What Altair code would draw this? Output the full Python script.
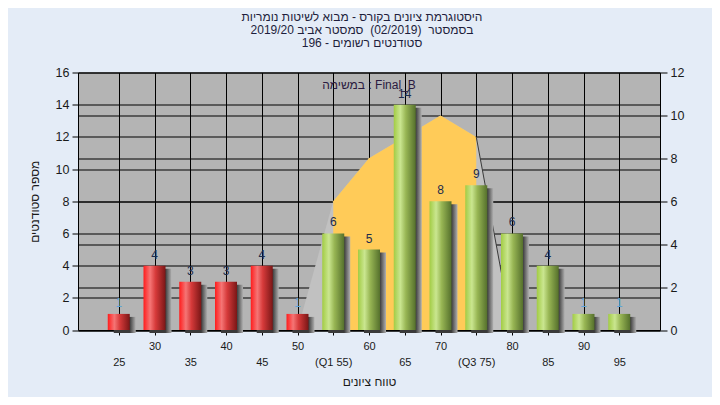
import altair as alt
import pandas as pd

# ---- data ----
scores = [25, 30, 35, 40, 45, 50, 55, 60, 65, 70, 75, 80, 85, 90, 95]
counts = [1, 4, 3, 3, 4, 1, 6, 5, 14, 8, 9, 6, 4, 1, 1]
q1, q3 = 55, 75
curve_x = [50, 55, 60, 65, 70, 75, 80]
curve_y = [0, 6, 8, 9, 10, 9, 0]
left_ticks = [0, 2, 4, 6, 8, 10, 12, 14, 16]
right_ticks = [0, 2, 4, 6, 8, 10, 12]
title_lines = [
    "היסטוגרמת ציונים בקורס - מבוא לשיטות נומריות",
    "בסמסטר\u00a0 (02/2019)\u00a0 סמסטר אביב 2019/20",
    "סטודנטים רשומים - 196",
]
x_title = "טווח ציונים"
y_title = "מספר סטודנטים"
note_text = "במשימה : Final_B"
note_x, note_y = 60, 15.2

FONT = "Liberation Sans, DejaVu Sans"

bars_df = pd.DataFrame({"score": scores, "count": counts})
bars_df["group"] = ["low" if s < q1 else "high" for s in scores]
curve_df = pd.DataFrame({"score": curve_x, "val": curve_y})
mid_df = curve_df[(curve_df.score >= q1) & (curve_df.score <= q3)]
tail_df = curve_df[curve_df.score >= q3]
note_df = pd.DataFrame({"score": [note_x], "count": [note_y], "t": [note_text]})

label_expr = (
    "(datum.value % 10 == 5) ? ['', (datum.value == 55 ? '(Q1 55)' : datum.value == 75 ? '(Q3 75)' : datum.label)]"
    " : [datum.label]"
)

X = alt.X(
    "score:Q",
    scale=alt.Scale(domain=[20, 100], nice=False, zero=False),
    axis=alt.Axis(
        values=scores, grid=True, tickSize=5, labelExpr=label_expr,
        labelFontSize=11, labelLineHeight=16, labelPadding=5, labelBaseline="top",
        title=x_title, titleFontSize=12, titleFontWeight="normal", titlePadding=9,
        labelFlush=False, labelOverlap=False,
    ),
)

# right-axis group (curve)
Yr = alt.Y(
    "val:Q",
    scale=alt.Scale(domain=[0, 12], nice=False),
    axis=alt.Axis(orient="right", values=right_ticks, grid=True, tickSize=7,
                  labelFontSize=12.5, labelPadding=3, title=None, labelOverlap=False),
)
curve_gray = alt.Chart(curve_df).mark_area(color="#c1c1c1", opacity=1).encode(x=X, y=Yr)
curve_yel = alt.Chart(mid_df).mark_area(color="#ffcb58", opacity=1).encode(x=X, y=Yr)
curve_edge = alt.Chart(tail_df).mark_line(color="#3a3a3a", strokeWidth=1).encode(x=X, y=Yr)
right_group = alt.layer(curve_gray, curve_yel, curve_edge)

# left-axis group (bars)
Yl = alt.Y(
    "count:Q",
    scale=alt.Scale(domain=[0, 16], nice=False),
    axis=alt.Axis(orient="left", values=left_ticks, grid=True, tickSize=6,
                  labelFontSize=12.5, labelPadding=3, title=y_title, labelOverlap=False,
                  labelSeparation=0, labelBound=False,
                  titleFontSize=12, titleFontWeight="normal", titlePadding=14),
)

shadow_grad = alt.Gradient(
    gradient="linear", x1=0, x2=1, y1=0, y2=0,
    stops=[alt.GradientStop(offset=0, color="#3a3a3a"),
           alt.GradientStop(offset=0.72, color="#3a3a3a"),
           alt.GradientStop(offset=1, color="#b0b0b0")],
)
red_grad = alt.Gradient(
    gradient="linear", x1=0, x2=1, y1=0, y2=0,
    stops=[alt.GradientStop(offset=0, color="#ff1c1c"),
           alt.GradientStop(offset=0.3, color="#f57575"),
           alt.GradientStop(offset=0.55, color="#d63a3a"),
           alt.GradientStop(offset=1, color="#7a1616")],
)
green_grad = alt.Gradient(
    gradient="linear", x1=0, x2=1, y1=0, y2=0,
    stops=[alt.GradientStop(offset=0, color="#a2cc44"),
           alt.GradientStop(offset=0.3, color="#cae690"),
           alt.GradientStop(offset=0.55, color="#98b654"),
           alt.GradientStop(offset=1, color="#55702c")],
)

base = alt.Chart(bars_df)
shadows = base.mark_bar(size=22, xOffset=6, yOffset=3, color=shadow_grad).encode(x=X, y=Yl)
red_bars = base.transform_filter("datum.group == 'low'").mark_bar(size=22, color=red_grad).encode(x=X, y=Yl)
green_bars = base.transform_filter("datum.group == 'high'").mark_bar(size=22, color=green_grad).encode(x=X, y=Yl)
labels = base.mark_text(font=FONT, fontSize=12, baseline="alphabetic", dy=-7).encode(
    x=X, y=Yl, text="count:Q",
    color=alt.condition("datum.count == 1", alt.value("#5fa4d8"), alt.value("#1c2c4c")))
note = alt.Chart(note_df).mark_text(
    font=FONT, fontSize=12, color="#2a1a40", baseline="middle").encode(
    x=X, y=Yl, text="t:N")
left_group = alt.layer(shadows, red_bars, green_bars, labels, note)

chart = (
    alt.layer(right_group, left_group)
    .resolve_scale(y="independent")
    .properties(
        width=582, height=257.5,
        autosize=alt.AutoSizeParams(type="none"),
        padding={"left": 70, "top": 64.5, "right": 52, "bottom": 67},
        background="#e4ecf7",
        title=alt.TitleParams(text=title_lines, fontSize=12, fontWeight="normal", font=FONT,
                              color="#1e1e3c", lineHeight=13, anchor="middle", offset=17, dx=-7),
    )
    .configure_view(fill="#b4b4b4", stroke=None)
    .configure_axis(labelFont=FONT, titleFont=FONT, labelColor="#1a1a1a", titleColor="#1a1a1a",
                    domainColor="#000000", tickColor="#000000", gridColor="#000000",
                    gridOpacity=1, gridWidth=1, domainWidth=1, tickWidth=1, labelOverlap=False)
    .configure_axisY(labelOverlap=False)
)

chart.save("out.html", embed_options={"renderer": "svg", "actions": False})
